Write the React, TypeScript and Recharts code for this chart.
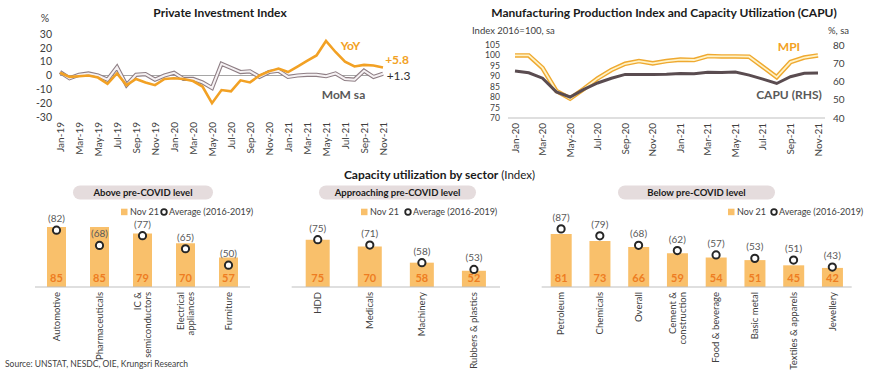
import React from 'react';
import { LineChart, Line, XAxis, YAxis, ReferenceLine, ComposedChart, Bar, LabelList } from 'recharts';

const FONT = 'Lato, "Open Sans", "Noto Sans", sans-serif';
const TXT = '#404040';
const ORANGE = '#f2a124';
const BAR = '#f9c06b';
const VAL = '#ee7d22';

// ---------- Private Investment Index ----------
const piMonths = [
  'Jan-19', 'Feb-19', 'Mar-19', 'Apr-19', 'May-19', 'Jun-19', 'Jul-19', 'Aug-19', 'Sep-19', 'Oct-19', 'Nov-19', 'Dec-19',
  'Jan-20', 'Feb-20', 'Mar-20', 'Apr-20', 'May-20', 'Jun-20', 'Jul-20', 'Aug-20', 'Sep-20', 'Oct-20', 'Nov-20', 'Dec-20',
  'Jan-21', 'Feb-21', 'Mar-21', 'Apr-21', 'May-21', 'Jun-21', 'Jul-21', 'Aug-21', 'Sep-21', 'Oct-21', 'Nov-21',
];
const piYoY = [
  2, -1, -0.5, 0, -1.5, -6, 1.5, -7, -2.5, -5, -7, -2.5,
  -2, -2.5, -4, -8, -20, -10.5, -11.5, -3.5, -5, 0, 3, 5,
  2.5, 6.5, 10.5, 14.5, 25, 17, 10, 6.5, 7.7, 7.2, 5.8,
];
const piMoM = [
  2.5, -2, 0.5, 1.5, 0, -3, 6, -7, 0.5, 1, -3, 0,
  2, -2.5, -2.5, -5, -9, 8.5, 5.5, 2.5, 3, -1, 2.5, 3.5,
  -1, 0, 0.5, 0.5, -0.5, 1.5, -2.5, -3, 3.5, -1, 1.3,
];
const piTicks = [-30, -20, -10, 0, 10, 20, 30];

// ---------- MPI & CAPU ----------
const mpiMonths = [
  'Jan-20', 'Feb-20', 'Mar-20', 'Apr-20', 'May-20', 'Jun-20', 'Jul-20', 'Aug-20', 'Sep-20', 'Oct-20', 'Nov-20', 'Dec-20',
  'Jan-21', 'Feb-21', 'Mar-21', 'Apr-21', 'May-21', 'Jun-21', 'Jul-21', 'Aug-21', 'Sep-21', 'Oct-21', 'Nov-21',
];
const mpiValues = [100, 100, 94, 83, 79.3, 84, 89, 93, 96, 97.3, 96.2, 97.3, 98, 97.8, 99.7, 99.5, 99.5, 99.4, 94.5, 89.6, 96.8, 99, 100];
const capuValues = [65.8, 64.8, 61.8, 54.3, 51.5, 55.7, 59.2, 61.8, 63.9, 63.8, 63.8, 64, 64.4, 64.3, 65.1, 64.9, 65.2, 63.5, 61.3, 58.9, 62.6, 64.5, 64.6];
const mpiTicks = [70, 75, 80, 85, 90, 95, 100, 105];
const capuTicks = [40, 50, 60, 70, 80];

// ---------- Capacity utilization by sector ----------
const aboveNames = ['Automotive', 'Pharmaceuticals', 'IC &\nsemiconductors', 'Electrical\nappliances', 'Furniture'];
const aboveNov = [85, 85, 79, 70, 57];
const aboveAvg = [82, 68, 77, 65, 50];

const approachNames = ['HDD', 'Medicals', 'Machinery', 'Rubbers & plastics'];
const approachNov = [75, 70, 58, 52];
const approachAvg = [75, 71, 58, 53];

const belowNames = ['Petroleum', 'Chemicals', 'Overall', 'Cement &\nconstruction', 'Food & beverage', 'Basic metal', 'Textiles & apparels', 'Jewellery'];
const belowNov = [81, 73, 66, 59, 54, 51, 45, 42];
const belowAvg = [87, 79, 68, 62, 57, 53, 51, 43];

const piData = piMonths.map((m, i) => ({ m, yoy: piYoY[i], mom: piMoM[i] }));
const mpiData = mpiMonths.map((m, i) => ({ m, mpi: mpiValues[i], capu: capuValues[i] }));
const mkSector = (names: string[], nov: number[], avg: number[]) =>
  names.map((name, i) => ({ name, nov: nov[i], avg: avg[i] }));

const MonthTick = (props: any) => {
  const { x, y, payload } = props;
  return (
    <g transform={`translate(${x},${y})`}>
      <text transform="rotate(-90)" x={0} y={0} dy="0.35em" textAnchor="end" fill={TXT} fontSize={10} fontFamily={FONT}>
        {payload.value}
      </text>
    </g>
  );
};

const SectorTick = (props: any) => {
  const { x, y, payload } = props;
  const lines = String(payload.value).split('\n');
  const lh = 10;
  const start = -((lines.length - 1) * lh) / 2;
  return (
    <g transform={`translate(${x},${y})`}>
      <text transform="rotate(-90)" textAnchor="end" fill={TXT} fontSize={9.5} fontFamily={FONT}>
        {lines.map((l, i) => (
          <tspan key={i} x={0} y={start + i * lh} dy="0.35em">{l}</tspan>
        ))}
      </text>
    </g>
  );
};

const ValueLabel = (props: any) => {
  const { x, y, width, height, value } = props;
  return (
    <text x={x + width / 2} y={y + height - 5} textAnchor="middle" fill={VAL} fontSize={11} fontWeight={700} fontFamily={FONT}>
      {value}
    </text>
  );
};

const AvgLabel = (props: any) => {
  const { x, y, value } = props;
  return (
    <text x={x} y={y - 8} textAnchor="middle" fill="#595959" fontSize={10} fontFamily={FONT}>
      ({value})
    </text>
  );
};

const AvgDot = (props: any) => {
  const { cx, cy, index } = props;
  return <circle key={`d${index}`} cx={cx} cy={cy} r={3.6} fill="#fff" stroke="#262626" strokeWidth={2} />;
};

const SectorChart = ({ data, domain, width, height, margin, barSize }: any) => (
  <ComposedChart width={width} height={height} data={data} margin={margin}>
    <XAxis dataKey="name" interval={0} tick={<SectorTick />} tickLine={false} tickSize={0} tickMargin={5}
      axisLine={{ stroke: '#bfbfbf' }} height={88} />
    <YAxis hide domain={domain} allowDataOverflow />
    <Bar dataKey="nov" fill={BAR} barSize={barSize} isAnimationActive={false}>
      <LabelList dataKey="nov" content={<ValueLabel />} />
    </Bar>
    <Line dataKey="avg" stroke="none" strokeWidth={0} dot={<AvgDot />} activeDot={false} isAnimationActive={false}>
      <LabelList dataKey="avg" content={<AvgLabel />} />
    </Line>
  </ComposedChart>
);

const Pill = ({ x, w, label }: any) => (
  <g>
    <rect x={x} y={185.5} width={w} height={14} rx={7} ry={7} fill="#e5dcdd" />
    <text x={x + w / 2} y={192.5} dy="0.35em" textAnchor="middle" fontSize={9.5} fontWeight={700} fill="#1a1a1a" fontFamily={FONT}>
      {label}
    </text>
  </g>
);

const Legend = ({ x, gap }: any) => (
  <g fontFamily={FONT} fontSize={9} fill={TXT}>
    <rect x={x} y={208.7} width={6.5} height={6.5} fill={BAR} />
    <text x={x + 9} y={212} dy="0.35em">Nov 21</text>
    <circle cx={x + 43 + gap} cy={212} r={2.8} fill="#fff" stroke="#262626" strokeWidth={1.8} />
    <text x={x + 48 + gap} y={212} dy="0.35em">Average (2016-2019)</text>
  </g>
);

export default function App() {
  return (
    <div style={{ position: 'absolute', left: 0, top: 0, width: 870, height: 375, background: '#fff', overflow: 'hidden', fontFamily: FONT }}>
      {/* Private Investment Index */}
      <div style={{ position: 'absolute', left: 0, top: 0 }}>
        <LineChart width={430} height={160} data={piData} margin={{ top: 34, right: 47, left: 10, bottom: 3 }}>
          <XAxis dataKey="m" interval={1} tick={<MonthTick />} tickLine={false} tickSize={0} tickMargin={5} axisLine={false} height={40} />
          <YAxis domain={[-30, 30]} ticks={piTicks} interval={0} width={50} axisLine={false} tickLine={false}
            tick={{ fill: TXT, fontSize: 10.5, fontFamily: FONT }} />
          <ReferenceLine y={0} stroke="#a6a6a6" strokeWidth={1} />
          <Line dataKey="mom" stroke="#8e7e84" strokeWidth={4.2} dot={false} activeDot={false} isAnimationActive={false} />
          <Line dataKey="mom" stroke="#f6f2f4" strokeWidth={2} dot={false} activeDot={false} isAnimationActive={false} />
          <Line dataKey="yoy" stroke={ORANGE} strokeWidth={2.6} dot={false} activeDot={false} isAnimationActive={false} />
        </LineChart>
      </div>

      {/* MPI & CAPU */}
      <div style={{ position: 'absolute', left: 430, top: 0 }}>
        <LineChart width={440} height={160} data={mpiData} margin={{ top: 45, right: 5, left: 28, bottom: 2 }}>
          <XAxis dataKey="m" interval={1} tick={<MonthTick />} tickLine={false} tickSize={0} tickMargin={5}
            axisLine={{ stroke: '#bfbfbf' }} height={40} padding={{ left: 7, right: 7 }} />
          <YAxis yAxisId="l" domain={[70, 105]} ticks={mpiTicks} interval={0} width={50} axisLine={false} tickLine={false}
            tick={{ fill: TXT, fontSize: 8.6, fontFamily: FONT }} />
          <YAxis yAxisId="r" orientation="right" domain={[40, 80]} ticks={capuTicks} interval={0} width={40} axisLine={false} tickLine={false}
            tick={{ fill: TXT, fontSize: 10, fontFamily: FONT }} />
          <Line yAxisId="l" dataKey="mpi" stroke="#efa930" strokeWidth={4.6} dot={false} activeDot={false} isAnimationActive={false} />
          <Line yAxisId="l" dataKey="mpi" stroke="#fff3c8" strokeWidth={1.8} dot={false} activeDot={false} isAnimationActive={false} />
          <Line yAxisId="r" dataKey="capu" stroke="#5a4c50" strokeWidth={3} dot={false} activeDot={false} isAnimationActive={false} />
        </LineChart>
      </div>

      {/* Sector panels */}
      <div style={{ position: 'absolute', left: 0, top: 180 }}>
        <SectorChart data={mkSector(aboveNames, aboveNov, aboveAvg)} domain={[30, 100]} width={260} height={195}
          margin={{ top: 30.5, right: 10, left: 35, bottom: 0 }} barSize={19} />
      </div>
      <div style={{ position: 'absolute', left: 270, top: 180 }}>
        <SectorChart data={mkSector(approachNames, approachNov, approachAvg)} domain={[40, 100]} width={245} height={195}
          margin={{ top: 25.9, right: 15, left: 21.7, bottom: 0 }} barSize={24} />
      </div>
      <div style={{ position: 'absolute', left: 520, top: 180 }}>
        <SectorChart data={mkSector(belowNames, belowNov, belowAvg)} domain={[20, 100]} width={350} height={195}
          margin={{ top: 37.6, right: 18.3, left: 21.7, bottom: 0 }} barSize={21} />
      </div>

      {/* Text overlay */}
      <svg width={870} height={375} style={{ position: 'absolute', left: 0, top: 0, pointerEvents: 'none' }} fontFamily={FONT}>
        <text x={220} y={12.7} dy="0.35em" textAnchor="middle" fontSize={12} fontWeight={700} fill="#1a1a1a">Private Investment Index</text>
        <text x={45} y={18} dy="0.35em" textAnchor="middle" fontSize={10.5} fill={TXT}>%</text>
        <text x={350.5} y={46} dy="0.35em" textAnchor="middle" fontSize={12} fontWeight={700} fill={ORANGE}>YoY</text>
        <text x={397} y={59.5} dy="0.35em" textAnchor="middle" fontSize={12} fontWeight={700} fill={ORANGE}>+5.8</text>
        <text x={398.5} y={75.7} dy="0.35em" textAnchor="middle" fontSize={12} fill="#303030">+1.3</text>
        <text x={343.5} y={94.3} dy="0.35em" textAnchor="middle" fontSize={12} fontWeight={700} fill="#595959">MoM sa</text>

        <text x={664} y={12.7} dy="0.35em" textAnchor="middle" fontSize={12} fontWeight={700} fill="#1a1a1a">Manufacturing Production Index and Capacity Utilization (CAPU)</text>
        <text x={472} y={31} dy="0.35em" fontSize={9.5} fill={TXT}>Index 2016=100, sa</text>
        <text x={828} y={31} dy="0.35em" fontSize={9.5} fill={TXT}>%, sa</text>
        <text x={789} y={46.7} dy="0.35em" textAnchor="middle" fontSize={12} fontWeight={700} fill={ORANGE}>MPI</text>
        <text x={789} y={94.3} dy="0.35em" textAnchor="middle" fontSize={12} fontWeight={700} fill="#595959">CAPU (RHS)</text>

        <text x={439.5} y={173} dy="0.35em" textAnchor="middle" fill="#1a1a1a">
          <tspan fontSize={12} fontWeight={700}>Capacity utilization by sector</tspan>
          <tspan fontSize={11.5}> (Index)</tspan>
        </text>

        <Pill x={73} w={140} label="Above pre-COVID level" />
        <Pill x={319} w={157} label="Approaching  pre-COVID level" />
        <Pill x={618} w={157} label="Below pre-COVID level" />

        <Legend x={121} gap={0} />
        <Legend x={361} gap={4} />
        <Legend x={728} gap={3} />

        <text x={5} y={364.3} dy="0.35em" fontSize={8.5} fill={TXT}>Source: UNSTAT, NESDC, OIE, Krungsri Research</text>
      </svg>
    </div>
  );
}
